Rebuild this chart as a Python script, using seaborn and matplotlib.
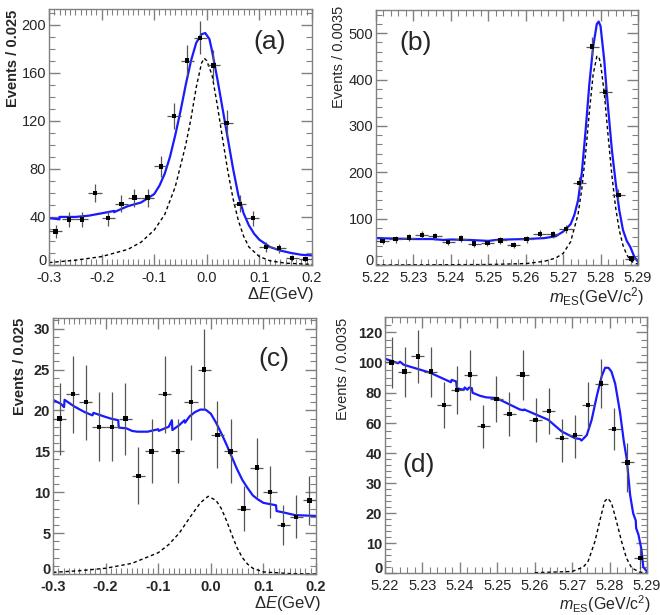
import numpy as np
import pandas as pd
import matplotlib
matplotlib.use("Agg")
import matplotlib.pyplot as plt
from matplotlib.ticker import MultipleLocator, FixedLocator, FormatStrFormatter
import seaborn as sns

# ---------------- data ----------------
de_centers = [-0.2875, -0.2625, -0.2375, -0.2125, -0.1875, -0.1625, -0.1375, -0.1125, -0.0875, -0.0625,
              -0.0375, -0.0125, 0.0125, 0.0375, 0.0625, 0.0875, 0.1125, 0.1375, 0.1625, 0.1875]
mes_centers = [5.22175, 5.22525, 5.22875, 5.23225, 5.23575, 5.23925, 5.24275, 5.24625, 5.24975, 5.25325,
               5.25675, 5.26025, 5.26375, 5.26725, 5.27075, 5.27425, 5.27775, 5.28125, 5.28475, 5.28825]

a_counts = [28, 38, 38, 60, 39, 51, 56, 56, 82, 124, 170, 189, 166, 118, 51, 39, 15, 14, 6, 5]
a_err = [5.3, 6.2, 6.2, 7.7, 6.2, 7.1, 7.5, 7.5, 9.1, 11.1, 13.0, 13.7, 12.9, 10.9, 7.1, 6.2, 3.9, 3.7, 2.4, 2.2]
a_fit_x = [-0.300, -0.280, -0.280, -0.250, -0.225, -0.200, -0.176, -0.176, -0.150, -0.125, -0.100, -0.090,
           -0.080, -0.070, -0.060, -0.050, -0.040, -0.030, -0.020, -0.010, -0.003, 0.005, 0.010, 0.020,
           0.030, 0.040, 0.050, 0.060, 0.070, 0.080, 0.090, 0.100, 0.120, 0.140, 0.160, 0.180, 0.200]
a_fit_y = [39, 38, 40, 40, 41, 43, 45, 44, 49, 52, 59, 66, 76, 90, 108, 128, 150, 170, 185, 192, 193,
           188, 178, 155, 130, 105, 80, 58, 43, 33, 26, 21, 15, 12, 10, 8.5, 8]
a_sig_x = [-0.300, -0.250, -0.200, -0.150, -0.125, -0.100, -0.080, -0.060, -0.040, -0.030, -0.020, -0.010,
           -0.005, 0.000, 0.010, 0.020, 0.030, 0.040, 0.050, 0.060, 0.070, 0.080, 0.100, 0.120, 0.150, 0.200]
a_sig_y = [2, 4, 7, 13, 19, 29, 42, 65, 100, 122, 148, 168, 172, 170, 158, 133, 105, 78, 55, 37, 24, 15,
           7, 3.5, 1.5, 0.5]

b_counts = [52, 56, 59, 65, 62, 50, 57, 46, 47, 53, 43, 56, 67, 66, 77, 177, 471, 373, 151, 14]
b_err = [7.2, 7.5, 7.7, 8.1, 7.9, 7.1, 7.5, 6.8, 6.9, 7.3, 6.6, 7.5, 8.2, 8.1, 8.8, 13.3, 21.7, 19.3, 12.3, 3.7]
b_fit_x = [5.2200, 5.2250, 5.2300, 5.2350, 5.2380, 5.2400, 5.2450, 5.2500, 5.2520, 5.2550, 5.2600,
           5.2650, 5.2680, 5.2700, 5.2720, 5.2730, 5.2740, 5.2750, 5.2760, 5.2770, 5.2780, 5.2790,
           5.2795, 5.2800, 5.2810, 5.2816, 5.2820, 5.2830, 5.2840, 5.2850, 5.2860, 5.2870, 5.2880,
           5.2890, 5.2900]
b_fit_y = [58, 57, 56, 56, 54, 55, 54, 52, 54, 55, 56, 58, 62, 72, 88, 108, 140, 200, 290, 390, 470,
           520, 525, 515, 440, 378, 340, 250, 180, 118, 75, 52, 38, 18, 7]
b_sig_x = [5.2200, 5.2500, 5.2600, 5.2650, 5.2680, 5.2700, 5.2720, 5.2740, 5.2750, 5.2760, 5.2770,
           5.2780, 5.2790, 5.2795, 5.2800, 5.2810, 5.2820, 5.2830, 5.2840, 5.2850, 5.2860, 5.2870,
           5.2880, 5.2890, 5.2900]
b_sig_y = [0, 1, 3, 8, 15, 25, 50, 110, 165, 240, 330, 410, 450, 450, 435, 370, 280, 195, 125, 75,
           42, 22, 10, 4, 2]

c_counts = [19, 22, 21, 18, 18, 19, 12, 15, 22, 15, 21, 25, 17, 15, 8, 13, 10, 6, 7, 9]
c_err = [4.4, 4.7, 4.6, 4.2, 4.2, 4.4, 3.5, 3.9, 4.7, 3.9, 4.6, 5.0, 4.1, 3.9, 2.8, 3.6, 3.2, 2.4, 2.6, 3.0]
c_fit_x = [-0.300, -0.285, -0.279, -0.278, -0.260, -0.240, -0.225, -0.223, -0.200, -0.190, -0.176,
           -0.175, -0.160, -0.150, -0.140, -0.120, -0.100, -0.099, -0.080, -0.074, -0.073, -0.060,
           -0.050, -0.049, -0.040, -0.030, -0.020, -0.010, 0.000, 0.010, 0.020, 0.030, 0.040, 0.050,
           0.060, 0.070, 0.080, 0.090, 0.100, 0.124, 0.125, 0.140, 0.160, 0.200]
c_fit_y = [21.3, 20.8, 20.4, 21.3, 20.5, 19.8, 19.4, 19.7, 19.2, 19.0, 18.8, 17.9, 17.8, 17.5, 17.4,
           17.4, 17.7, 17.5, 18.0, 18.8, 17.6, 18.2, 18.8, 18.5, 19.3, 19.8, 20.1, 20.1, 19.6, 18.5,
           17.2, 15.8, 14.3, 12.8, 11.5, 10.5, 9.6, 9.1, 8.7, 8.4, 7.7, 7.5, 7.2, 7.1]
c_sig_x = [-0.300, -0.250, -0.200, -0.150, -0.100, -0.080, -0.060, -0.040, -0.020, -0.005, 0.010,
           0.020, 0.030, 0.040, 0.050, 0.060, 0.070, 0.080, 0.100, 0.150, 0.200]
c_sig_y = [0.2, 0.4, 0.7, 1.3, 2.6, 3.6, 5.0, 6.9, 8.7, 9.5, 9.0, 8.0, 6.5, 4.8, 3.2, 2.0, 1.2, 0.7,
           0.25, 0.05, 0.0]

d_counts = [100, 94, 104, 94, 72, 82, 92, 58, 76, 66, 92, 62, 68, 50, 52, 72, 86, 56, 37, 5]
d_err = [17, 16.5, 17.5, 16.5, 15, 16, 16.5, 14.2, 15, 14.5, 16.5, 14.5, 15, 13, 13.5, 15, 16, 14, 10, 3.5]
d_fit_x = [5.2200, 5.2235, 5.2240, 5.2250, 5.2320, 5.2376, 5.2378, 5.2390, 5.2392, 5.2410, 5.2413,
           5.2420, 5.2425, 5.2432, 5.2434, 5.2454, 5.2470, 5.2498, 5.2560, 5.2570, 5.2572, 5.2583,
           5.2636, 5.2672, 5.2708, 5.2721, 5.2725, 5.2739, 5.2752, 5.2766, 5.2779, 5.2788, 5.2797,
           5.2805, 5.2815, 5.2828, 5.2838, 5.2846, 5.2855, 5.2863, 5.2870, 5.2871, 5.2877, 5.2885,
           5.2890, 5.2900]
d_fit_y = [102.5, 99.5, 100.5, 98.5, 93.3, 87, 88.5, 87.5, 83, 82, 83.5, 82, 83.5, 83, 80, 78, 77,
           76.5, 69, 68.5, 69, 67.8, 62.2, 54.5, 50, 49.5, 48.5, 52, 62, 78, 91, 96.5, 96.5, 94, 86,
           67, 48, 38, 26, 20, 17.5, 15, 12.9, 8, 2, 0.5]
d_sig_x = [5.2600, 5.2700, 5.2730, 5.2743, 5.2761, 5.2775, 5.2787, 5.2795, 5.2805, 5.2818, 5.2832,
           5.2845, 5.2859, 5.2880, 5.2900]
d_sig_y = [0.1, 0.5, 2, 4, 10.6, 18, 24, 25, 23.5, 17.5, 10.6, 5, 1.7, 0.3, 0]

de_ticks = [-0.3, -0.2, -0.1, 0.0, 0.1, 0.2]
mes_ticks = [5.22, 5.23, 5.24, 5.25, 5.26, 5.27, 5.28, 5.29]
d_yticks = [0, 10, 20, 30, 40, 60, 80, 100, 120]

# ---------------- style ----------------
sns.set_theme(style="ticks")
plt.rcParams["font.family"] = ["Liberation Sans", "DejaVu Sans"]
plt.rcParams["axes.unicode_minus"] = False
plt.rcParams["mathtext.fontset"] = "custom"
plt.rcParams["mathtext.rm"] = "Liberation Sans"
plt.rcParams["mathtext.it"] = "Liberation Sans:italic"

W, H = 660, 615
fig = plt.figure(figsize=(W / 100, H / 100), dpi=100)

FRAME = "#808080"
BLUE = "#1a1aff"


def make_ax(l, t, r, b):
    return fig.add_axes([l / W, 1 - b / H, (r - l) / W, (b - t) / H])


def style(ax, weight="normal"):
    for s in ax.spines.values():
        s.set_color(FRAME)
        s.set_linewidth(1.0)
    ax.tick_params(which="both", direction="in", top=True, right=True, color=FRAME,
                   labelsize=10.5)
    ax.tick_params(axis="x", which="both", pad=4)
    ax.tick_params(axis="y", which="both", pad=2)
    ax.tick_params(which="major", length=8, width=1)
    ax.tick_params(which="minor", length=4, width=0.8)
    for lab in ax.get_xticklabels() + ax.get_yticklabels():
        lab.set_fontweight(weight)
    ax.set_xlabel("")
    ax.set_ylabel("")


def draw(ax, centers, counts, errs, halfw, fx, fy, sx, sy):
    dfit = pd.DataFrame({"x": fx, "y": fy})
    dsig = pd.DataFrame({"x": sx, "y": sy})
    sns.lineplot(data=dsig, x="x", y="y", ax=ax, color="black", lw=1.0, sort=False,
                 estimator=None, linestyle=(0, (2.5, 2)))
    sns.lineplot(data=dfit, x="x", y="y", ax=ax, color=BLUE, lw=1.6, sort=False, estimator=None)
    ax.errorbar(centers, counts, yerr=errs, xerr=halfw, fmt="none", ecolor="#555555",
                elinewidth=0.9, capsize=0, zorder=3)
    sns.scatterplot(x=centers, y=counts, ax=ax, marker="s", color="black", s=10,
                    edgecolor="none", zorder=4)


# (a)
axa = make_ax(49, 9, 312, 265)
draw(axa, de_centers, a_counts, a_err, 0.0125, a_fit_x, a_fit_y, a_sig_x, a_sig_y)
axa.set_xlim(-0.3, 0.2)
axa.set_ylim(0, 213)
axa.xaxis.set_major_locator(FixedLocator(de_ticks))
axa.xaxis.set_minor_locator(MultipleLocator(0.01))
axa.xaxis.set_major_formatter(FormatStrFormatter("%.1f"))
axa.yaxis.set_major_locator(MultipleLocator(40))
axa.yaxis.set_minor_locator(MultipleLocator(10))
style(axa)
axa.text(0.84, 0.87, "(a)", transform=axa.transAxes, fontsize=19, ha="center", va="center")

# (b)
axb = make_ax(376, 10, 638, 265)
draw(axb, mes_centers, b_counts, b_err, 0.00175, b_fit_x, b_fit_y, b_sig_x, b_sig_y)
axb.set_xlim(5.22, 5.29)
axb.set_ylim(0, 550)
axb.xaxis.set_major_locator(FixedLocator(mes_ticks))
axb.xaxis.set_minor_locator(MultipleLocator(0.002))
axb.xaxis.set_major_formatter(FormatStrFormatter("%.2f"))
axb.yaxis.set_major_locator(MultipleLocator(100))
axb.yaxis.set_minor_locator(MultipleLocator(20))
style(axb)
axb.text(0.15, 0.87, "(b)", transform=axb.transAxes, fontsize=19, ha="center", va="center")

# (c)
axc = make_ax(53, 318, 316, 574)
draw(axc, de_centers, c_counts, c_err, 0.0125, c_fit_x, c_fit_y, c_sig_x, c_sig_y)
axc.set_xlim(-0.3, 0.2)
axc.set_ylim(0, 31.3)
axc.xaxis.set_major_locator(FixedLocator(de_ticks))
axc.xaxis.set_minor_locator(MultipleLocator(0.01))
axc.xaxis.set_major_formatter(FormatStrFormatter("%.1f"))
axc.yaxis.set_major_locator(MultipleLocator(5))
axc.yaxis.set_minor_locator(MultipleLocator(1))
style(axc, weight="bold")
axc.text(0.84, 0.84, "(c)", transform=axc.transAxes, fontsize=19, ha="center", va="center")

# (d) piecewise-linear y scale: compressed above 40
K = 0.507


def fwd(y):
    y = np.asarray(y, dtype=float)
    return np.where(y <= 40, y, 40 + (y - 40) * K)


def inv(u):
    u = np.asarray(u, dtype=float)
    return np.where(u <= 40, u, 40 + (u - 40) / K)


axd = make_ax(385, 317, 647, 573)
axd.set_yscale("function", functions=(fwd, inv))
draw(axd, mes_centers, d_counts, d_err, 0.00175, d_fit_x, d_fit_y, d_sig_x, d_sig_y)
axd.set_xlim(5.22, 5.29)
axd.set_ylim(0, 130)
axd.xaxis.set_major_locator(FixedLocator(mes_ticks))
axd.xaxis.set_minor_locator(MultipleLocator(0.002))
axd.xaxis.set_major_formatter(FormatStrFormatter("%.2f"))
axd.yaxis.set_major_locator(FixedLocator(d_yticks))
axd.yaxis.set_minor_locator(FixedLocator([2, 4, 6, 8, 12, 14, 16, 18, 22, 24, 26, 28, 32, 34, 36, 38,
                                          45, 50, 55, 65, 70, 75, 85, 90, 95, 105, 110, 115, 125]))
axd.yaxis.set_major_formatter(FormatStrFormatter("%d"))
style(axd)
for lab in axd.get_yticklabels():
    lab.set_fontweight("bold")
axd.text(0.13, 0.42, "(d)", transform=axd.transAxes, fontsize=19, ha="center", va="center")

# axis titles
ylab_kw = dict(rotation=90, ha="center", va="top", fontsize=10.5)
fig.text(13 / W, 1 - 10 / H, "Events / 0.025", fontweight="bold", **ylab_kw)
fig.text(339 / W, 1 - 6 / H, "Events / 0.0035", **ylab_kw)
fig.text(20 / W, 1 - 318 / H, "Events / 0.025", fontweight="bold", **ylab_kw)
fig.text(343 / W, 1 - 318 / H, "Events / 0.0035", **ylab_kw)

xl_kw = dict(ha="right", va="top", fontsize=12)
fig.text(315 / W, 1 - 285 / H, r"$\Delta \mathit{E}$(GeV)", **xl_kw)
fig.text(644 / W, 1 - 285 / H, r"$\mathit{m}_{\mathrm{ES}}$(GeV/c$^{2}$)", **xl_kw)
fig.text(322 / W, 1 - 594 / H, r"$\Delta \mathit{E}$(GeV)", **xl_kw)
fig.text(651 / W, 1 - 593 / H, r"$\mathit{m}_{\mathrm{ES}}$(GeV/c$^{2}$)",
         ha="right", va="top", fontsize=11.5)

# lift the bottom-most y tick label so it clears the x tick labels at the corner
fig.canvas.draw()
for ax in (axa, axb, axc, axd):
    for tick in ax.yaxis.get_major_ticks():
        if abs(tick.get_loc()) < 1e-9:
            tick.label1.set_verticalalignment("baseline")

fig.savefig("out.png", dpi=100, facecolor="white")
